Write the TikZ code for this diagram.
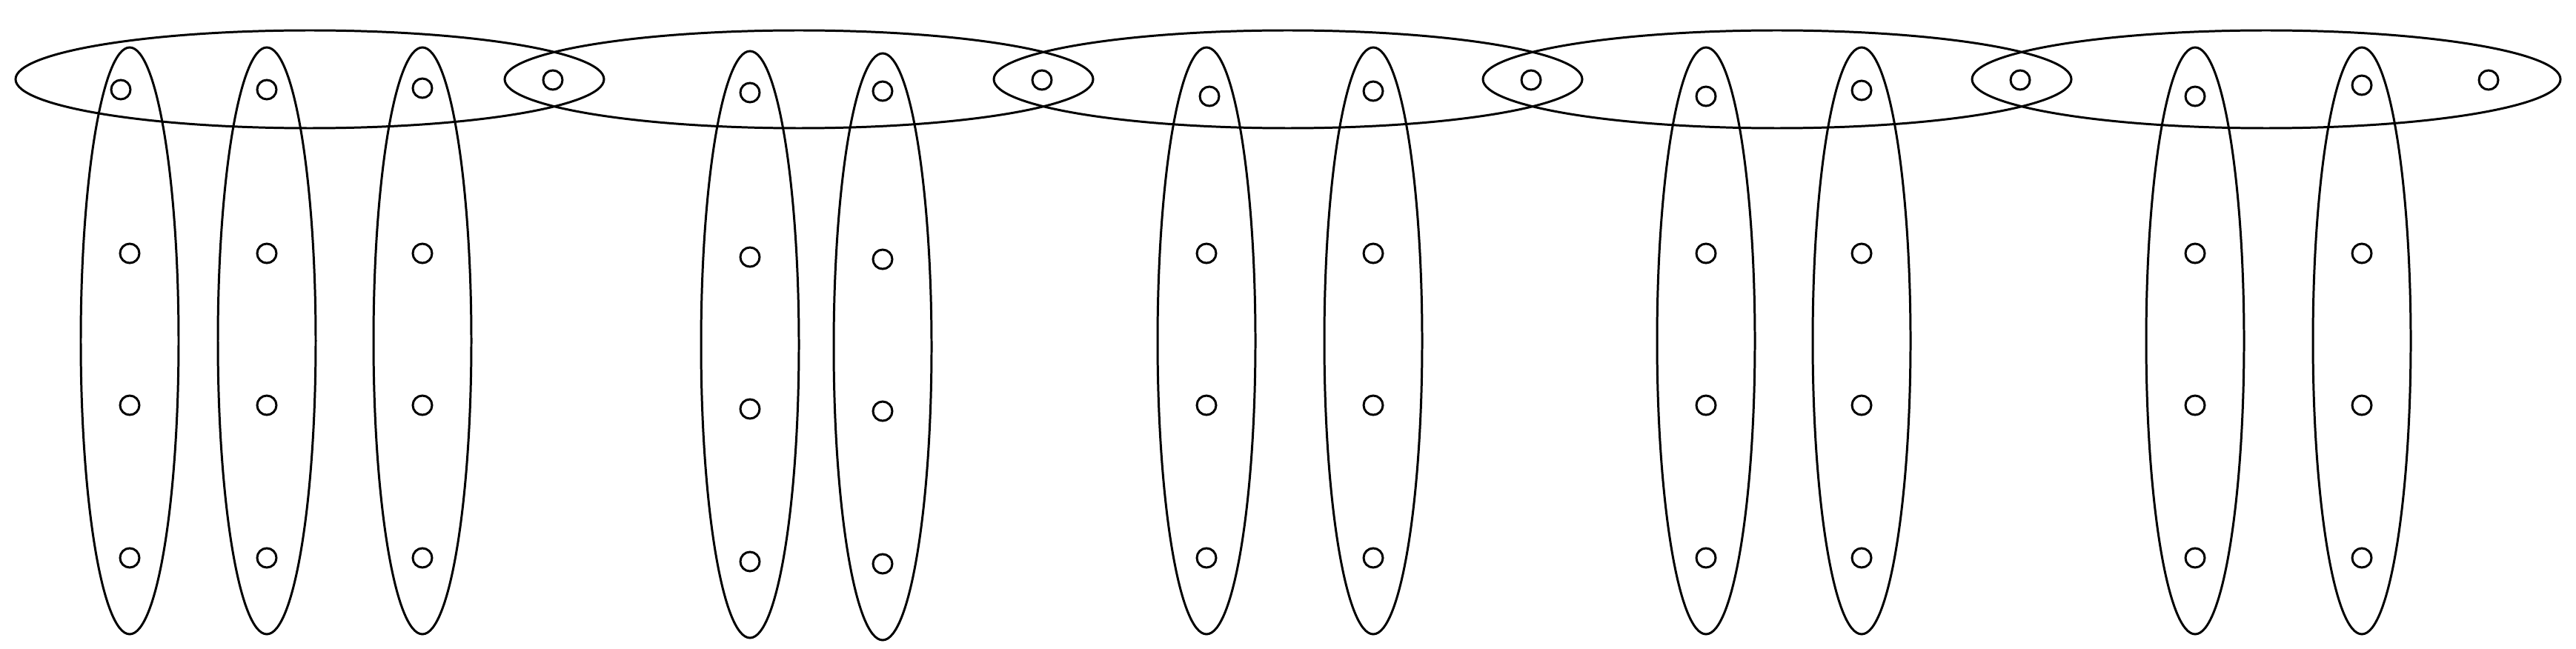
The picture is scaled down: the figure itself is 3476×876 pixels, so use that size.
\documentclass[tikz,border=0pt]{standalone}
\usepackage{tikz}

\begin{document}
\begin{tikzpicture}[x=0.01cm, y=-0.01cm, line width=0.85pt]
                \useasboundingbox (0,0) rectangle (3476,876);
                \foreach \k in {0,...,4}
                    \draw[black] (418+660*\k,107) ellipse (397 and 66);
                \foreach \x/\tx/\ty/\d in {175/163/121/0, 360/360/121/0, 570/570/119/0, 1012/1012/125/5, 1191/1191/123/8, 1628/1632/130/0, 1853/1853/123/0, 2302/2302/130/0, 2512/2512/122/0, 2962/2962/130/0, 3187/3187/115/0}
                {
                    \draw[black] (\x,460+\d) ellipse (66 and 396);
                    \draw[black] (\tx,\ty) circle (13);
                    \foreach \y in {342,547,753}
                        \draw[black] (\x,\y+\d) circle (13);
                }
                \foreach \k in {0,...,3}
                    \draw[black] (746+660*\k,108) circle (13);
                \draw[black] (3358,108) circle (13);
            \end{tikzpicture}
\end{document}
